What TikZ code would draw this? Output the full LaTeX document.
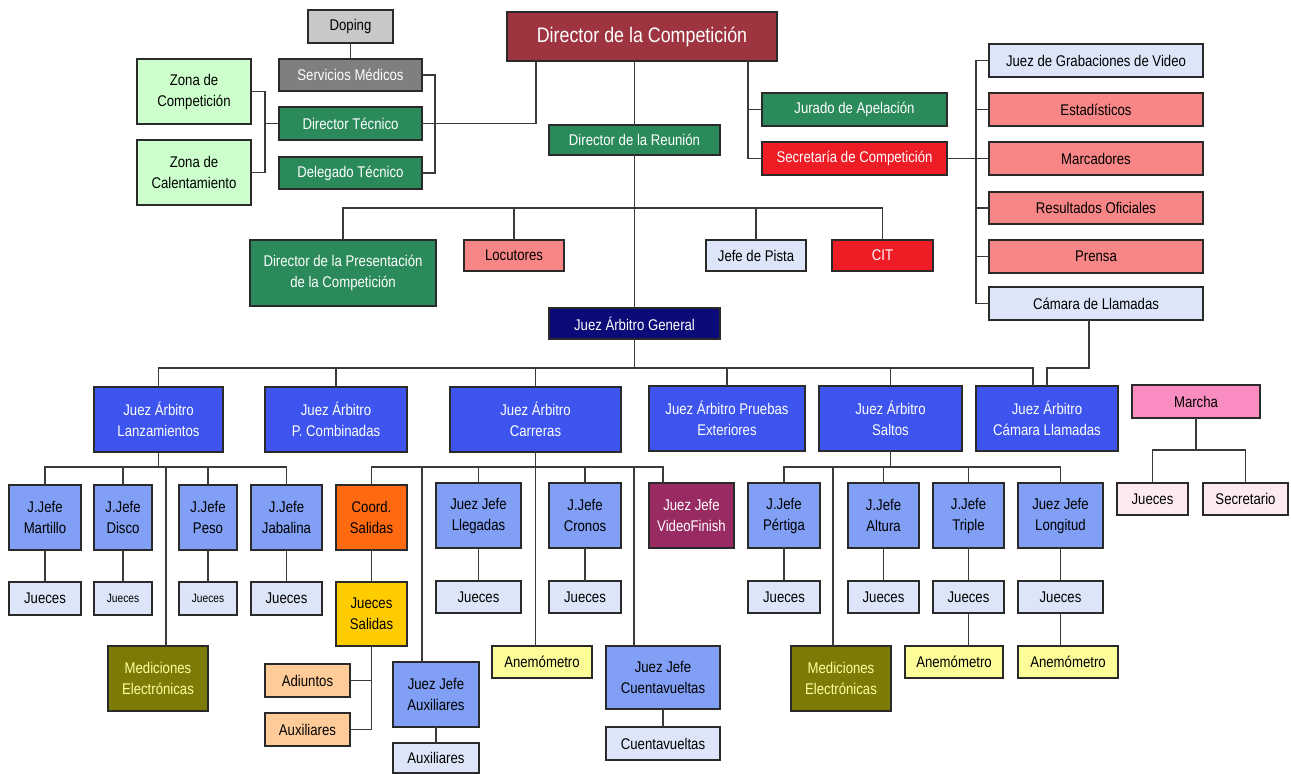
\documentclass[tikz,border=0pt]{standalone}
\usepackage{fontspec}
\setmainfont{Liberation Sans}[FakeStretch=0.85]
\definecolor{bd}{HTML}{2A2A2A}
\definecolor{lnc}{HTML}{3A3A3A}
\definecolor{maroon}{HTML}{9E3440}
\definecolor{grn}{HTML}{2A8A5A}
\definecolor{gry}{HTML}{7F7F7F}
\definecolor{lgry}{HTML}{C8C8C8}
\definecolor{lgrn}{HTML}{CCFFCC}
\definecolor{rd}{HTML}{EE1C25}
\definecolor{salmon}{HTML}{F88686}
\definecolor{lblue}{HTML}{DCE6F8}
\definecolor{navy}{HTML}{0A0A78}
\definecolor{royal}{HTML}{3D55EE}
\definecolor{corn}{HTML}{809FF5}
\definecolor{orng}{HTML}{FF6A10}
\definecolor{gold}{HTML}{FFCC00}
\definecolor{peach}{HTML}{FFCC99}
\definecolor{mgnt}{HTML}{982C62}
\definecolor{olive}{HTML}{7B7B05}
\definecolor{lyel}{HTML}{FCFC99}
\definecolor{pnk}{HTML}{F98CC0}
\definecolor{vlpnk}{HTML}{FCEAF0}
\definecolor{medtxt}{HTML}{FFFFA0}
\tikzset{
  box/.style={draw=bd,line width=1.4pt,inner sep=1pt,outer sep=0pt,align=center,
    font=\fontsize{15.5}{21}\selectfont,text=black},
  ln/.style={draw=lnc,line width=1.3pt},
  fmaroon/.style={fill=maroon,text=white,font=\fontsize{21}{24}\selectfont},
  fgrn/.style={fill=grn,text=white},
  fgry/.style={fill=gry,text=white},
  flgry/.style={fill=lgry},
  flgrn/.style={fill=lgrn},
  frd/.style={fill=rd,text=white},
  fsal/.style={fill=salmon},
  flb/.style={fill=lblue},
  fnavy/.style={fill=navy,text=white},
  froyal/.style={fill=royal,text=white},
  fcorn/.style={fill=corn},
  forng/.style={fill=orng},
  fgold/.style={fill=gold},
  fpeach/.style={fill=peach},
  fmgnt/.style={fill=mgnt,text=white},
  folive/.style={fill=olive,text=medtxt},
  flyel/.style={fill=lyel},
  fpnk/.style={fill=pnk},
  fvlpnk/.style={fill=vlpnk},
  small/.style={font=\fontsize{12}{14}\selectfont}
}
\newcommand\bx[7]{\node[box,#6,minimum width={#4-#2},minimum height={#5-#3}] (#1) at ({(#2+#4)/2},{(#3+#5)/2}) {#7};}
\begin{document}
\begin{tikzpicture}[x=1pt,y=-1pt]
\useasboundingbox[fill=white] (0,0) rectangle (1291,774);
% top
\bx{dop}{308}{10}{393}{43}{flgry}{Doping}
\bx{serv}{279}{59}{422}{91}{fgry}{Servicios Médicos}
\bx{dtec}{279}{107}{422}{140}{fgrn}{Director Técnico}
\bx{dele}{279}{157}{422}{189}{fgrn}{Delegado Técnico}
\bx{zc}{137}{59}{251}{124}{flgrn}{Zona de\\Competición}
\bx{zcal}{137}{140}{251}{205}{flgrn}{Zona de\\Calentamiento}
\bx{dirc}{507}{12}{777}{61}{fmaroon}{Director de la Competición}
\bx{dirr}{549}{125}{720}{155}{fgrn}{Director de la Reunión}
\bx{jur}{762}{93}{947}{126}{fgrn}{Jurado de Apelación}
\bx{sec}{762}{142}{947}{175}{frd}{Secretaría de Competición}
\bx{jgv}{989}{44}{1203}{77}{flb}{Juez de Grabaciones de Video}
\bx{est}{989}{93}{1203}{126}{fsal}{Estadísticos}
\bx{mar}{989}{142}{1203}{175}{fsal}{Marcadores}
\bx{res}{989}{192}{1203}{224}{fsal}{Resultados Oficiales}
\bx{pre}{989}{240}{1203}{273}{fsal}{Prensa}
\bx{cam}{989}{287}{1203}{320}{flb}{Cámara de Llamadas}
% row 2
\bx{dpc}{250}{240}{436}{306}{fgrn}{Director de la Presentación\\de la Competición}
\bx{loc}{464}{240}{564}{271}{fsal}{Locutores}
\bx{jp}{706}{240}{806}{271}{flb}{Jefe de Pista}
\bx{cit}{832}{240}{933}{271}{frd}{CIT}
\bx{jag}{549}{308}{720}{339}{fnavy}{Juez Árbitro General}
% row 3
\bx{jal}{94}{387}{223}{452}{froyal}{Juez Árbitro\\Lanzamientos}
\bx{jpc}{265}{387}{407}{452}{froyal}{Juez Árbitro\\P. Combinadas}
\bx{jca}{450}{387}{621}{452}{froyal}{Juez Árbitro\\Carreras}
\bx{jpe}{649}{386}{805}{451}{froyal}{Juez Árbitro Pruebas\\Exteriores}
\bx{jsa}{819}{386}{962}{451}{froyal}{Juez Árbitro\\Saltos}
\bx{jcl}{976}{386}{1118}{451}{froyal}{Juez Árbitro\\Cámara Llamadas}
\bx{mch}{1132}{385}{1260}{418}{fpnk}{Marcha}
% row 4
\bx{mt}{9}{485}{81}{550}{fcorn}{J.Jefe\\Martillo}
\bx{di}{94}{485}{152}{550}{fcorn}{J.Jefe\\Disco}
\bx{pe}{179}{485}{237}{550}{fcorn}{J.Jefe\\Peso}
\bx{ja}{251}{485}{322}{550}{fcorn}{J.Jefe\\Jabalina}
\bx{co}{336}{485}{407}{550}{forng}{Coord.\\Salidas}
\bx{ll}{436}{483}{521}{548}{fcorn}{Juez Jefe\\Llegadas}
\bx{cr}{549}{483}{621}{548}{fcorn}{J.Jefe\\Cronos}
\bx{vf}{649}{483}{734}{548}{fmgnt}{Juez Jefe\\VideoFinish}
\bx{pt}{748}{483}{820}{548}{fcorn}{J.Jefe\\Pértiga}
\bx{al}{848}{483}{919}{548}{fcorn}{J.Jefe\\Altura}
\bx{tr}{933}{483}{1004}{548}{fcorn}{J.Jefe\\Triple}
\bx{lo}{1018}{483}{1103}{548}{fcorn}{Juez Jefe\\Longitud}
\bx{mj}{1117}{483}{1188}{515}{fvlpnk}{Jueces}
\bx{ms}{1203}{483}{1288}{515}{fvlpnk}{Secretario}
% row 5
\bx{j1}{9}{582}{81}{615}{flb}{Jueces}
\bx{j2}{94}{582}{152}{615}{flb,small}{Jueces}
\bx{j3}{179}{582}{237}{615}{flb,small}{Jueces}
\bx{j4}{251}{582}{322}{615}{flb}{Jueces}
\bx{js}{336}{582}{407}{646}{fgold}{Jueces\\Salidas}
\bx{j5}{436}{581}{521}{613}{flb}{Jueces}
\bx{j6}{549}{581}{621}{613}{flb}{Jueces}
\bx{j7}{748}{581}{820}{613}{flb}{Jueces}
\bx{j8}{848}{581}{919}{613}{flb}{Jueces}
\bx{j9}{933}{581}{1004}{613}{flb}{Jueces}
\bx{j10}{1018}{581}{1103}{613}{flb}{Jueces}
% row 6
\bx{me1}{108}{646}{208}{711}{folive}{Mediciones\\Electrónicas}
\bx{ad}{265}{664}{350}{697}{fpeach}{Adiuntos}
\bx{au}{265}{713}{350}{746}{fpeach}{Auxiliares}
\bx{jja}{393}{662}{479}{727}{fcorn}{Juez Jefe\\Auxiliares}
\bx{aux}{393}{743}{479}{773}{flb}{Auxiliares}
\bx{an1}{492}{646}{592}{678}{flyel}{Anemómetro}
\bx{jjc}{606}{646}{720}{709}{fcorn}{Juez Jefe\\Cuentavueltas}
\bx{cv}{606}{727}{720}{760}{flb}{Cuentavueltas}
\bx{me2}{791}{646}{891}{711}{folive}{Mediciones\\Electrónicas}
\bx{an2}{905}{646}{1003}{678}{flyel}{Anemómetro}
\bx{an3}{1018}{646}{1118}{678}{flyel}{Anemómetro}
% connectors top
\draw[ln] (dop) -- (serv);
\draw[ln] (zc.east) -- ++(14,0) |- (zcal.east);
\draw[ln] (dtec.west) -- (dtec.west -| 265,0);
\draw[ln] (serv.east) -- ++(13,0) |- (dele.east);
\draw[ln] (dirc.south -| 536,0) |- (dtec.east);
\draw[ln] (dirr.north) -- (dirr.north |- dirc.south);
\draw[ln] (dirc.south -| 748,0) |- (sec.west);
\draw[ln] (jur.west) -- (jur.west -| 748,0);
\draw[ln] (sec.east) -- (sec.east -| 976,0);
\draw[ln] (jgv.west) -- (jgv.west -| 976,0) |- (cam.west);
\foreach \n in {est,mar,res,pre} \draw[ln] (\n.west) -- (\n.west -| 976,0);
\draw[ln] (cam.south -| 1089,0) -- (1089,368) -| (jcl.north);
% director de la reunion
\draw[ln] (dirr.south) -- (jag.north);
\draw[ln] (dpc.north) -- ++(0,-32) -| (cit.north);
\draw[ln] (loc.north) -- ++(0,-32);
\draw[ln] (jp.north) -- ++(0,-32);
% juez arbitro general
\draw[ln] (jag.south) -- ++(0,29);
\draw[ln] (jal.north) -- ++(0,-19) -| (jcl.north -| 1033,0);
\foreach \n in {jpc,jca} \draw[ln] (\n.north) -- ++(0,-19);
\foreach \n in {jpe,jsa} \draw[ln] (\n.north) -- ++(0,-18);
% lanzamientos
\draw[ln] (jal.south) -- ++(0,15);
\draw[ln] (mt.north) -- ++(0,-18) -| (ja.north);
\draw[ln] (di.north) -- ++(0,-18);
\draw[ln] (pe.north) -- ++(0,-18);
\draw[ln] (me1.north -| 166,0) -- (166,467);
% carreras
\draw[ln] (jca.south) -- (jca.south |- an1.north);
\draw[ln] (co.north) -- ++(0,-18) -| (vf.north -| 663,0);
\draw[ln] (jja.north -| 422,0) -- (422,467);
\draw[ln] (ll.north) -- ++(0,-16);
\draw[ln] (cr.north) -- ++(0,-16);
\draw[ln] (jjc.north -| 634,0) -- (634,467);
\draw[ln] (co) -- (js);
\draw[ln] (js.south) -- (js.south |- au.east) -- (au.east);
\draw[ln] (ad.east) -- (ad.east -| js.south);
\draw[ln] (jja) -- (aux);
\draw[ln] (jjc) -- (cv);
% saltos
\draw[ln] (jsa.south) -- ++(0,16);
\draw[ln] (pt.north) -- ++(0,-16) -| (lo.north);
\draw[ln] (al.north) -- ++(0,-16);
\draw[ln] (tr.north) -- ++(0,-16);
\draw[ln] (me2.north -| 833,0) -- (833,467);
% jueces
\foreach \a/\b in {mt/j1,di/j2,pe/j3,ja/j4,ll/j5,cr/j6,pt/j7,al/j8,tr/j9,lo/j10} \draw[ln] (\a) -- (\b);
\draw[ln] (j9.south) -- (j9.south |- an2.north);
\draw[ln] (j10.south) -- (j10.south |- an3.north);
% marcha
\draw[ln] (mch.south) -- ++(0,32);
\draw[ln] (mj.north) -- ++(0,-33) -| (ms.north);
\end{tikzpicture}
\end{document}
